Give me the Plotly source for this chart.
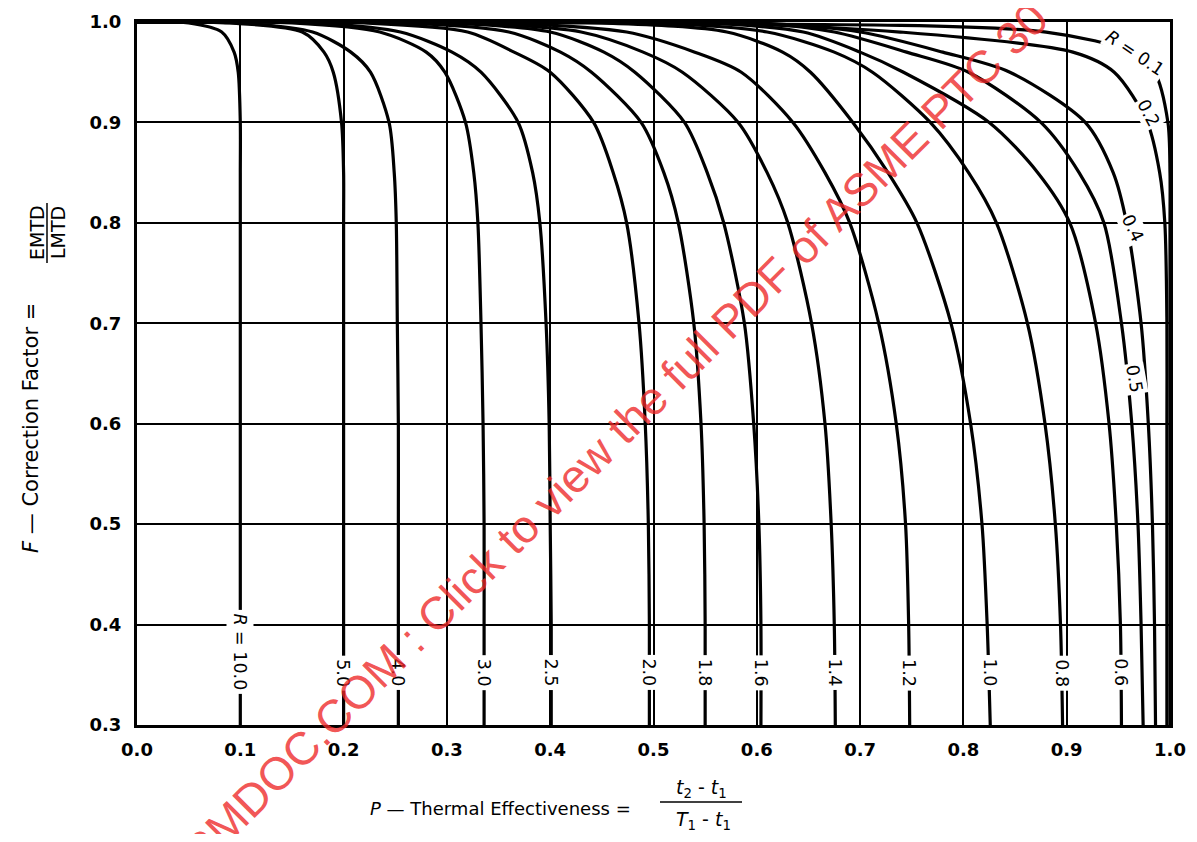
import plotly.graph_objects as go

# ---------------- data ----------------
# P = thermal effectiveness (x), F = correction factor (y), one curve per R
R_LABELS = ["<i>R</i> = 10.0", "5.0", "4.0", "3.0", "2.5", "2.0", "1.8", "1.6",
            "1.4", "1.2", "1.0", "0.8", "0.6", "0.5", "0.4", "0.2", "<i>R</i> = 0.1"]

F_LEVELS = [1.0, 0.999, 0.99, 0.97, 0.95, 0.9, 0.85, 0.8, 0.7, 0.6, 0.5, 0.4, 0.3]

P_R10 = [0.0, 0.050, 0.082, 0.094, 0.098, 0.100, 0.100, 0.100, 0.100, 0.100, 0.100, 0.100, 0.100]
P_R5 = [0.0, 0.090, 0.160, 0.181, 0.190, 0.198, 0.200, 0.200, 0.200, 0.200, 0.200, 0.200, 0.200]
P_R4 = [0.0, 0.100, 0.170, 0.207, 0.226, 0.244, 0.249, 0.251, 0.252, 0.253, 0.253, 0.253, 0.253]
P_R3 = [0.0, 0.150, 0.235, 0.280, 0.298, 0.318, 0.326, 0.330, 0.333, 0.335, 0.336, 0.336, 0.336]
P_R25 = [0.0, 0.170, 0.255, 0.305, 0.333, 0.369, 0.383, 0.390, 0.396, 0.399, 0.400, 0.401, 0.401]
P_R20 = [0.0, 0.220, 0.320, 0.365, 0.400, 0.442, 0.461, 0.474, 0.486, 0.492, 0.495, 0.496, 0.496]
P_R18 = [0.0, 0.260, 0.360, 0.410, 0.440, 0.488, 0.510, 0.524, 0.539, 0.546, 0.549, 0.550, 0.550]
P_R16 = [0.0, 0.300, 0.400, 0.452, 0.482, 0.530, 0.552, 0.568, 0.588, 0.597, 0.602, 0.604, 0.604]
P_R14 = [0.0, 0.320, 0.430, 0.490, 0.528, 0.582, 0.610, 0.630, 0.653, 0.666, 0.672, 0.675, 0.676]
P_R12 = [0.0, 0.350, 0.474, 0.540, 0.585, 0.635, 0.666, 0.690, 0.718, 0.735, 0.744, 0.747, 0.748]
P_R10b = [0.0, 0.450, 0.571, 0.625, 0.652, 0.693, 0.727, 0.755, 0.788, 0.807, 0.818, 0.823, 0.826]
P_R08 = [0.0, 0.500, 0.610, 0.675, 0.712, 0.768, 0.805, 0.832, 0.862, 0.879, 0.889, 0.894, 0.896]
P_R06 = [0.0, 0.550, 0.645, 0.700, 0.742, 0.825, 0.872, 0.903, 0.928, 0.941, 0.948, 0.952, 0.953]
P_R05 = [0.0, 0.600, 0.675, 0.745, 0.805, 0.875, 0.912, 0.936, 0.953, 0.963, 0.969, 0.972, 0.974]
P_R04 = [0.0, 0.600, 0.700, 0.780, 0.845, 0.918, 0.945, 0.958, 0.972, 0.979, 0.983, 0.985, 0.986]
P_R02 = [0.0, 0.545, 0.739, 0.906, 0.946, 0.978, 0.990, 0.995, 0.997, 0.997, 0.997, 0.997, 0.997]
P_R01 = [0.0, 0.450, 0.880, 0.962, 0.985, 0.998, 1.000, 1.000, 1.000, 1.000, 1.000, 1.000, 1.000]

X_TICKS = [0.0, 0.1, 0.2, 0.3, 0.4, 0.5, 0.6, 0.7, 0.8, 0.9, 1.0]
Y_TICKS = [0.3, 0.4, 0.5, 0.6, 0.7, 0.8, 0.9, 1.0]

CURVES_P = [P_R10, P_R5, P_R4, P_R3, P_R25, P_R20, P_R18, P_R16, P_R14,
            P_R12, P_R10b, P_R08, P_R06, P_R05, P_R04, P_R02, P_R01]

# ---------------- styling / placement ----------------
FONT = "DejaVu Sans, Liberation Sans, Arial, sans-serif"
W, H = 1181, 826                 # page body has an 8 px margin
ML, MR, MT, MB = 129, 19, 14, 109
# plot area in page pixels
PX0, PX1, PY0, PY1 = 137, 1170, 22, 725


def px2paper(px, py):
    return (px - PX0) / (PX1 - PX0), (PY1 - py) / (PY1 - PY0)


fig = go.Figure()
for P in CURVES_P:
    fig.add_trace(go.Scatter(x=P, y=F_LEVELS, mode="lines",
                             line=dict(color="black", width=3.2, shape="spline", smoothing=0.8),
                             hoverinfo="skip", showlegend=False))

lab_font = dict(family=FONT, size=17.5, color="black")
annotations = []
# labels on the lower (vertical) part of the curves
for i in range(13):
    annotations.append(dict(
        x=CURVES_P[i][-1], y=0.373 if i == 0 else 0.352, xref="x", yref="y",
        xanchor="center", yanchor="middle",
        text=R_LABELS[i], textangle=90, showarrow=False,
        font=lab_font, bgcolor="white", borderpad=3))

# labels near the right edge (x, y, angle)
right_labels = [(13, 0.966, 0.645, 80), (14, 0.964, 0.795, 64),
                (15, 0.979, 0.909, 62), (16, 0.966, 0.969, 34)]
for idx, lx, ly, ang in right_labels:
    annotations.append(dict(
        x=lx, y=ly, xref="x", yref="y", xanchor="center", yanchor="middle",
        text=R_LABELS[idx], textangle=ang,
        showarrow=False, font=lab_font, bgcolor="white", borderpad=1))


def paper_text(px, py, text, size, angle=0, color="black"):
    ax, ay = px2paper(px, py)
    return dict(x=ax, y=ay, xref="paper", yref="paper", xanchor="center", yanchor="middle",
                text=text, textangle=angle, showarrow=False,
                font=dict(family=FONT, size=size, color=color))


# axis titles
annotations.append(paper_text(31, 428, "<i>F</i> — Correction Factor =", 21, -90))
annotations.append(paper_text(37, 233, "EMTD", 19, -90))
annotations.append(paper_text(58, 233, "LMTD", 19, -90))
annotations.append(paper_text(500, 808, "<i>P</i> — Thermal Effectiveness =", 18))
annotations.append(paper_text(701, 788, "<i>t</i><sub>2</sub> - <i>t</i><sub>1</sub>", 19))
annotations.append(paper_text(703, 820, "<i>T</i><sub>1</sub> - <i>t</i><sub>1</sub>", 19))

# watermark (data-referenced so it does not push the margins)
wx, wy = px2paper(544, 506)
annotations.append(dict(x=wx, y=0.3 + 0.7 * wy, xref="x", yref="y",
                        xanchor="center", yanchor="middle",
                        text="ASMENORMDOC.COM : Click to view the full PDF of ASME PTC 30",
                        textangle=-45, showarrow=False,
                        font=dict(family="Liberation Sans, Arial, sans-serif", size=46,
                                  color="rgba(238,40,40,0.8)")))

shapes = []
x0, y0 = px2paper(47, 263)
x1, y1 = px2paper(47, 203)
shapes.append(dict(type="line", xref="paper", yref="paper", x0=x0, x1=x1, y0=y0, y1=y1,
                   line=dict(color="black", width=1.5)))
x0, y0 = px2paper(660, 802)
x1, y1 = px2paper(742, 802)
shapes.append(dict(type="line", xref="paper", yref="paper", x0=x0, x1=x1, y0=y0, y1=y1,
                   line=dict(color="black", width=1.5)))

tickfont = dict(family=FONT, size=18, color="black", weight="bold")
fig.update_layout(
    width=W, height=H, autosize=False,
    margin=dict(l=ML, r=MR, t=MT, b=MB, autoexpand=False),
    plot_bgcolor="white", paper_bgcolor="white",
    showlegend=False,
    annotations=annotations, shapes=shapes,
    xaxis=dict(range=[0, 1], tickvals=X_TICKS, ticktext=[f"{v:.1f}" for v in X_TICKS],
               showgrid=True, gridcolor="black", gridwidth=2, zeroline=False,
               showline=True, linecolor="black", linewidth=3, mirror=True, automargin=False,
               ticks="outside", ticklen=6, tickcolor="rgba(0,0,0,0)", tickfont=tickfont),
    yaxis=dict(range=[0.3, 1.0], tickvals=Y_TICKS, ticktext=[f"{v:.1f}" for v in Y_TICKS],
               showgrid=True, gridcolor="black", gridwidth=2, zeroline=False,
               showline=True, linecolor="black", linewidth=3, mirror=True, automargin=False,
               ticks="outside", ticklen=9, tickcolor="rgba(0,0,0,0)", tickfont=tickfont),
)

fig.write_html("out.html")
